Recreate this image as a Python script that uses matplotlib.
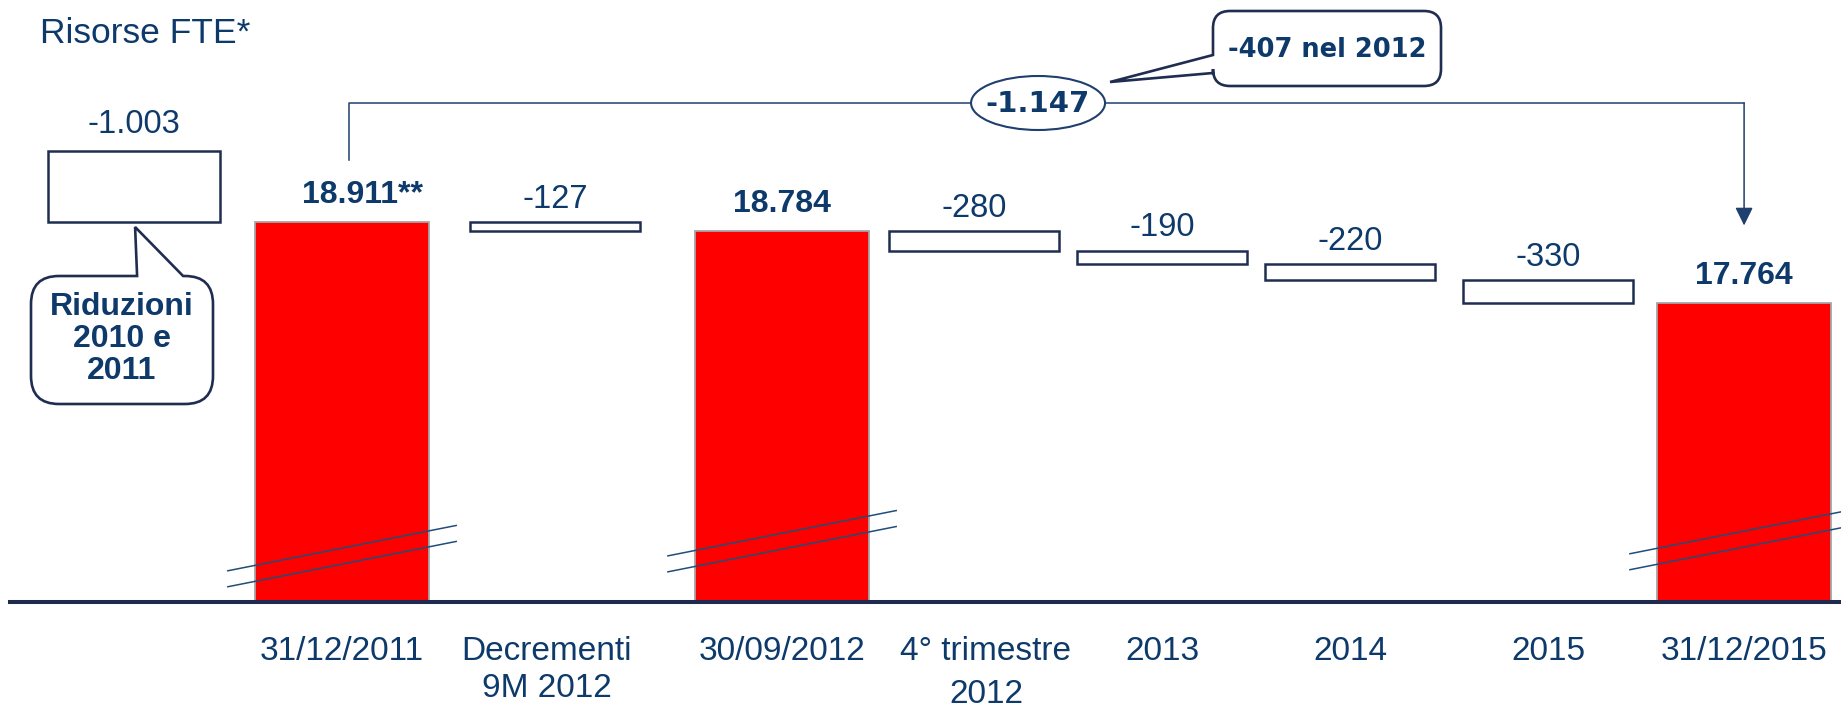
"""FTE resources bridge chart, 2011-2015."""

import matplotlib
matplotlib.use("Agg")
import matplotlib.pyplot as plt
from matplotlib.patches import Ellipse, PathPatch
from matplotlib.path import Path
from matplotlib.transforms import blended_transform_factory

plt.rcParams["font.family"] = ["Liberation Sans", "DejaVu Sans"]

# ---- data -------------------------------------------------------------
categories = ["31/12/2011", "Decrementi\n9M 2012", "30/09/2012",
              "4° trimestre\n2012", "2013", "2014", "2015", "31/12/2015"]
values = [18911, -127, 18784, -280, -190, -220, -330, 17764]
is_total = [True, False, True, False, False, False, False, True]
total_suffix = ["**", "", "", "", "", "", "", ""]
prior_cut = -1003          # riduzioni 2010 e 2011
prior_label = "Riduzioni\n2010 e\n2011"

# ---- layout -----------------------------------------------------------
W, H = 1841, 710
slot_x = [0, 1.063, 2.197, 3.155, 4.094, 5.033, 6.021, 7.0]
prior_x = -1.038
line_gap = [0, 37, 0, 43, 0, 0, 0, 0]   # px between label lines
label_dx = [0, -8, 0, 12, 0, 0, 0, 0]   # px nudge of category labels
break_y = [0.228, 0.249, 0.252]         # axes fraction of the break marks
FLOOR = 13561                           # value drawn at the (broken) baseline

NAVY = "#0d3a6a"
EDGE = "#1f2d50"
LINE = "#1f3f6e"
RED = "#ff0000"


def fmt(v):
    return f"{v:,}".replace(",", ".")


fig = plt.figure(figsize=(W / 100, H / 100), dpi=100)
fig.patch.set_facecolor("white")
ax = fig.add_axes([0, 0, 1, 1])
ax.set_xlim(-1.7075, 7.4838)
ax.set_ylim(12040, 22037)
ax.axis("off")

ov = fig.add_axes([0, 0, 1, 1], zorder=5)
ov.set_xlim(0, W)
ov.set_ylim(H, 0)
ov.axis("off")
ov.patch.set_alpha(0)


def to_px(x, v):
    dx, dy = ax.transData.transform((x, v))
    return dx, H - dy


# ---- bars ---------------------------------------------------------------
level = None
total_levels = []
for i, (x, v) in enumerate(zip(slot_x, values)):
    if is_total[i]:
        ax.bar(x, v - FLOOR, bottom=FLOOR, width=0.865, color=RED,
               edgecolor="#a6a6a6", linewidth=1.3, zorder=2)
        shift = 10 * len(total_suffix[i])
        ax.annotate(fmt(v) + total_suffix[i], (x, v), xytext=(shift, 27),
                    textcoords="offset pixels", ha="center", va="center",
                    fontsize=23, fontweight="bold", color=NAVY)
        level = v
        total_levels.append((x, v))
    else:
        ax.bar(x, -v, bottom=level + v, width=0.85, color="white",
               edgecolor=EDGE, linewidth=1.8, zorder=2)
        ax.annotate(fmt(v), (x, level), xytext=(0, 23),
                    textcoords="offset pixels", ha="center", va="center",
                    fontsize=23.5, color=NAVY)
        level += v

# reductions before the period, stacked on top of the first total
first = values[0]
ax.bar(prior_x, -prior_cut, bottom=first, width=0.86, color="white",
       edgecolor=EDGE, linewidth=1.8, zorder=2)
ax.annotate(fmt(prior_cut), (prior_x, first - prior_cut), xytext=(0, 26),
            textcoords="offset pixels", ha="center", va="center",
            fontsize=23.5, color=NAVY)

# baseline
ax.axhline(FLOOR, xmin=0.0055, xmax=1, color="#1f2a4f", linewidth=2.9,
           zorder=3)

# axis-break marks across the total bars
blend = blended_transform_factory(ax.transData, ax.transAxes)
for (x, _), yb in zip(total_levels, break_y):
    for off in (0.0, -0.0225):
        ax.plot([x - 0.57, x + 0.57],
                [yb + off - 0.0319, yb + off + 0.0319],
                transform=blend, color="#1f4e79", linewidth=1.1, zorder=4,
                clip_on=False)

# ---- category labels ------------------------------------------------------
for x, cat, gap, dx in zip(slot_x, categories, line_gap, label_dx):
    px, _ = to_px(x, FLOOR)
    for k, line in enumerate(cat.split("\n")):
        ov.text(px + dx, 660 + k * gap, line, ha="center", va="baseline",
                fontsize=24, color=NAVY)

# ---- title ----------------------------------------------------------------
ov.text(40, 43, "Risorse FTE*", ha="left", va="baseline", fontsize=25.5,
        color=NAVY)


# ---- callouts ---------------------------------------------------------------
def bubble(x0, y0, x1, y1, r, side, b0, b1, tip):
    """Rounded box with a pointer on its top or left edge (y grows down)."""
    C3 = Path.CURVE3
    L = Path.LINETO
    verts = [(x0 + r, y0)]
    codes = [Path.MOVETO]
    if side == "top":
        verts += [(b0, y0), tip, (b1, y0)]
        codes += [L, L, L]
    verts += [(x1 - r, y0), (x1, y0), (x1, y0 + r),
              (x1, y1 - r), (x1, y1), (x1 - r, y1),
              (x0 + r, y1), (x0, y1), (x0, y1 - r)]
    codes += [L, C3, C3, L, C3, C3, L, C3, C3]
    if side == "left":
        verts += [(x0, b0), tip, (x0, b1)]
        codes += [L, L, L]
    verts += [(x0, y0 + r), (x0, y0), (x0 + r, y0), (x0 + r, y0)]
    codes += [L, C3, C3, Path.CLOSEPOLY]
    return PathPatch(Path(verts, codes), facecolor="white", edgecolor=EDGE,
                     linewidth=1.9, zorder=3)


prior_cx, prior_bottom = to_px(prior_x, first)
ov.add_patch(bubble(31, 276, 213, 404, 28, "top", prior_cx + 3,
                    prior_cx + 49, (prior_cx + 1, prior_bottom + 5)))
ov.text(122, 339, prior_label, ha="center", va="center", fontsize=23,
        fontweight="bold", color=NAVY, linespacing=1.07)

# bracket from the first to the last total, with overall change
(x_start, y_start), (x_end, y_end) = [to_px(x, v) for x, v in
                                      (total_levels[0], total_levels[-1])]
y_top = 103
ov.plot([x_start + 7, x_start + 7, x_end], [y_start - 62, y_top, y_top],
        color=LINE, linewidth=1.1, zorder=2)
ov.annotate("", xy=(x_end, y_end - 78), xytext=(x_end, y_top),
            arrowprops=dict(arrowstyle="-|>,head_length=0.55,head_width=0.27",
                            mutation_scale=20, color=LINE, lw=1.1,
                            shrinkA=0, shrinkB=0), zorder=2)

overall = values[-1] - values[0]
cut_2012 = sum(v for v, t, c in zip(values, is_total, categories)
               if not t and "2012" in c)
mid = (x_start + x_end) / 2 - 5
ov.add_patch(Ellipse((mid, y_top), 134, 54, facecolor="white",
                     edgecolor=LINE, linewidth=1.5, zorder=3))
ov.text(mid, y_top + 1, fmt(overall), ha="center", va="center",
        fontsize=21, fontweight="bold", color=NAVY, family="DejaVu Sans",
        zorder=4)

ov.add_patch(bubble(1213, 11, 1441, 86, 17, "left", 73, 55,
                    (mid + 72, y_top - 21)))
ov.text(1327, 50, f"{fmt(cut_2012)} nel 2012", ha="center", va="center",
        fontsize=18.5, fontweight="bold", color=NAVY, family="DejaVu Sans",
        zorder=4)

fig.savefig("out.png", dpi=100, facecolor="white")
